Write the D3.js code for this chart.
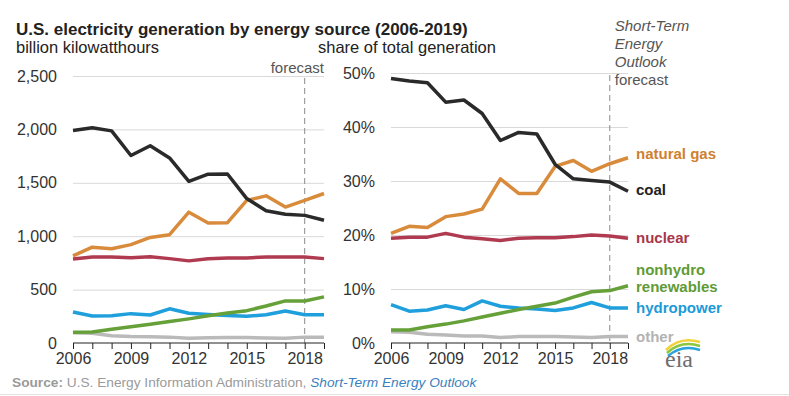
<!DOCTYPE html>
<html>
<head>
<meta charset="utf-8">
<script src="https://cdn.jsdelivr.net/npm/d3@7"></script>
<style>
  body { margin: 0; background: #fff; }
  svg { display: block; font-family: "Liberation Sans", Arial, sans-serif; }
</style>
</head>
<body>
<div id="chart"></div>
<script>
// values
var years = [2006, 2007, 2008, 2009, 2010, 2011, 2012, 2013, 2014, 2015, 2016, 2017, 2018, 2019];
var xTickYears = [2006, 2009, 2012, 2015, 2018];
var forecastYear = 2018;

// billion kilowatthours
var coalKwh    = [1990, 2016, 1986, 1756, 1847, 1733, 1514, 1581, 1582, 1352, 1239, 1206, 1195, 1150];
var gasKwh     = [816, 897, 883, 921, 988, 1014, 1225, 1124, 1127, 1335, 1378, 1273, 1335, 1400];
var nuclearKwh = [787, 806, 806, 799, 807, 790, 769, 789, 797, 797, 806, 805, 805, 790];
var renewKwh   = [100, 102, 128, 152, 176, 201, 226, 255, 280, 303, 346, 394, 394, 432];
var hydroKwh   = [290, 252, 255, 275, 262, 320, 278, 268, 258, 250, 264, 300, 264, 264];
var otherKwh   = [97, 92, 68, 60, 58, 55, 44, 50, 52, 52, 47, 45, 55, 55];

// share of total generation (%)
var coalPct    = [49.0, 48.5, 48.2, 44.6, 45.0, 42.5, 37.5, 39.0, 38.7, 33.1, 30.4, 30.1, 29.8, 28.1];
var gasPct     = [20.3, 21.6, 21.4, 23.4, 23.9, 24.8, 30.4, 27.7, 27.7, 32.7, 33.8, 31.8, 33.2, 34.3];
var nuclearPct = [19.4, 19.6, 19.6, 20.3, 19.6, 19.3, 19.0, 19.4, 19.5, 19.5, 19.7, 20.0, 19.8, 19.4];
var renewPct   = [2.4, 2.4, 3.0, 3.5, 4.1, 4.8, 5.5, 6.2, 6.8, 7.4, 8.5, 9.5, 9.7, 10.6];
var hydroPct   = [7.1, 5.9, 6.1, 6.9, 6.2, 7.8, 6.8, 6.5, 6.3, 6.0, 6.5, 7.5, 6.5, 6.5];
var otherPct   = [2.1, 2.0, 1.6, 1.5, 1.3, 1.3, 1.0, 1.2, 1.2, 1.2, 1.1, 1.0, 1.2, 1.2];

var kwhTicks = [0, 500, 1000, 1500, 2000, 2500];
var pctTicks = [0, 10, 20, 30, 40, 50];

var series = [
  { name: "other",      label: ["other"],                  color: "#bababa", text: "#b3b3b3", kwh: otherKwh,   pct: otherPct,   dy: [5] },
  { name: "hydro",      label: ["hydropower"],             color: "#1f9fdc", text: "#1b9ad8", kwh: hydroKwh,   pct: hydroPct,   dy: [5] },
  { name: "renewables", label: ["nonhydro", "renewables"], color: "#65a038", text: "#5f9b35", kwh: renewKwh,   pct: renewPct,   dy: [-11, 6] },
  { name: "nuclear",    label: ["nuclear"],                color: "#b03a4f", text: "#a93549", kwh: nuclearKwh, pct: nuclearPct, dy: [5] },
  { name: "gas",        label: ["natural gas"],            color: "#d98b3c", text: "#cf7f30", kwh: gasKwh,     pct: gasPct,     dy: [1] },
  { name: "coal",       label: ["coal"],                   color: "#2a2a2a", text: "#222",    kwh: coalKwh,    pct: coalPct,    dy: [4] }
];

var width = 789, height = 396;
var svg = d3.select("#chart").append("svg")
    .attr("width", width)
    .attr("height", height);

var bottom = 343;

var xL = d3.scaleLinear().domain([2006, 2019]).range([73, 324]);
var yL = d3.scaleLinear().domain([0, 2500]).range([bottom, 76]);
var xR = d3.scaleLinear().domain([2006, 2019]).range([391, 628]);
var yR = d3.scaleLinear().domain([0, 50]).range([bottom, 73]);

// titles
svg.append("text")
    .attr("x", 16).attr("y", 35)
    .attr("font-size", 17).attr("font-weight", "bold").attr("fill", "#222")
    .text("U.S. electricity generation by energy source (2006-2019)");
svg.append("text")
    .attr("x", 16).attr("y", 53)
    .attr("font-size", 16.5).attr("fill", "#222")
    .text("billion kilowatthours");
svg.append("text")
    .attr("x", 318).attr("y", 53)
    .attr("font-size", 16.5).attr("fill", "#222")
    .text("share of total generation");

function drawPanel(x, y, ticks, fmt, key, forecastLabel) {
  var g = svg.append("g");

  // gridlines + y labels
  var yAxis = d3.axisLeft(y).tickValues(ticks).tickSize(x.range()[0] - x.range()[1]).tickFormat(fmt);
  var ga = g.append("g")
      .attr("transform", "translate(" + x.range()[0] + ",0)")
      .call(yAxis);
  ga.select(".domain").remove();
  ga.selectAll(".tick line")
      .attr("stroke", "#d9d9d9")
      .filter(function(d) { return d === 0; }).remove();
  ga.selectAll(".tick text")
      .attr("x", -16)
      .attr("font-size", 16).attr("fill", "#333")
      .attr("font-family", "Liberation Sans, Arial, sans-serif");

  // forecast marker
  g.append("line")
      .attr("x1", x(forecastYear)).attr("x2", x(forecastYear))
      .attr("y1", y.range()[1] + 2).attr("y2", bottom)
      .attr("stroke", "#8a8a8a").attr("stroke-width", 1)
      .attr("stroke-dasharray", "6,4");
  forecastLabel(g);

  // lines
  var line = d3.line()
      .x(function(d, i) { return x(years[i]); })
      .y(function(d) { return y(d); });
  g.selectAll(".series")
    .data(series)
    .enter().append("path")
      .attr("class", "series")
      .attr("fill", "none")
      .attr("stroke", function(d) { return d.color; })
      .attr("stroke-width", 3.5)
      .attr("stroke-linejoin", "round")
      .attr("d", function(d) { return line(d[key]); });

  // x axis
  var xAxis = d3.axisBottom(x).tickValues(years).tickSize(6).tickFormat(function(d) {
    return xTickYears.indexOf(d) >= 0 ? d : "";
  });
  var gx = g.append("g")
      .attr("transform", "translate(0," + bottom + ")")
      .call(xAxis);
  gx.select(".domain").attr("stroke", "#222").attr("stroke-width", 1.2).attr("d", "M" + x.range()[0] + ",0H" + x.range()[1]);
  gx.selectAll(".tick line").attr("stroke", "#222");
  gx.selectAll(".tick text")
      .attr("y", 10).attr("font-size", 16).attr("fill", "#333")
      .attr("font-family", "Liberation Sans, Arial, sans-serif");
  return g;
}

drawPanel(xL, yL, kwhTicks, d3.format(","), "kwh", function(g) {
  g.append("text")
      .attr("x", xL(2019)).attr("y", 73)
      .attr("text-anchor", "end")
      .attr("font-size", 15).attr("fill", "#555")
      .text("forecast");
});

drawPanel(xR, yR, pctTicks, function(d) { return d + "%"; }, "pct", function(g) {
  var lines = [["Short-Term", "italic"], ["Energy", "italic"], ["Outlook", "italic"], ["forecast", "normal"]];
  g.selectAll(".steo")
    .data(lines)
    .enter().append("text")
      .attr("class", "steo")
      .attr("x", xR(forecastYear) + 5)
      .attr("y", function(d, i) { return 31 + i * 18; })
      .attr("font-size", 15).attr("fill", "#555")
      .attr("font-style", function(d) { return d[1]; })
      .text(function(d) { return d[0]; });
});

// direct labels at the right end of the share lines
series.forEach(function(s) {
  var last = s.pct[s.pct.length - 1];
  s.label.forEach(function(t, i) {
    svg.append("text")
        .attr("x", 636)
        .attr("y", yR(last) + s.dy[i])
        .attr("font-size", 15).attr("font-weight", "bold")
        .attr("fill", s.text)
        .text(t);
  });
});

// eia logo
var logo = svg.append("g").attr("transform", "translate(660,342)");
logo.append("path").attr("d", "M6,8 Q20,-6 40,0").attr("fill", "none").attr("stroke", "#f2d23a").attr("stroke-width", 2.5);
logo.append("path").attr("d", "M7,11 Q21,-2 40,4").attr("fill", "none").attr("stroke", "#8cc63f").attr("stroke-width", 2.5);
logo.append("path").attr("d", "M8,14 Q22,2 40,8").attr("fill", "none").attr("stroke", "#29a3dc").attr("stroke-width", 2.5);
logo.append("text")
    .attr("x", 5).attr("y", 25)
    .attr("font-size", 24).attr("fill", "#6d6d6d")
    .attr("font-family", "Liberation Serif, DejaVu Serif, serif")
    .text("eia");

// source
var src = svg.append("text")
    .attr("x", 12).attr("y", 387)
    .attr("font-size", 13.7).attr("fill", "#9a9a9a");
src.append("tspan").attr("font-weight", "bold").text("Source:");
src.append("tspan").text(" U.S. Energy Information Administration, ");
src.append("tspan").attr("font-style", "italic").attr("fill", "#3a7fbd").text("Short-Term Energy Outlook");

svg.append("line")
    .attr("x1", 0).attr("x2", width)
    .attr("y1", 394.5).attr("y2", 394.5)
    .attr("stroke", "#e3e3e3");
</script>
</body>
</html>
